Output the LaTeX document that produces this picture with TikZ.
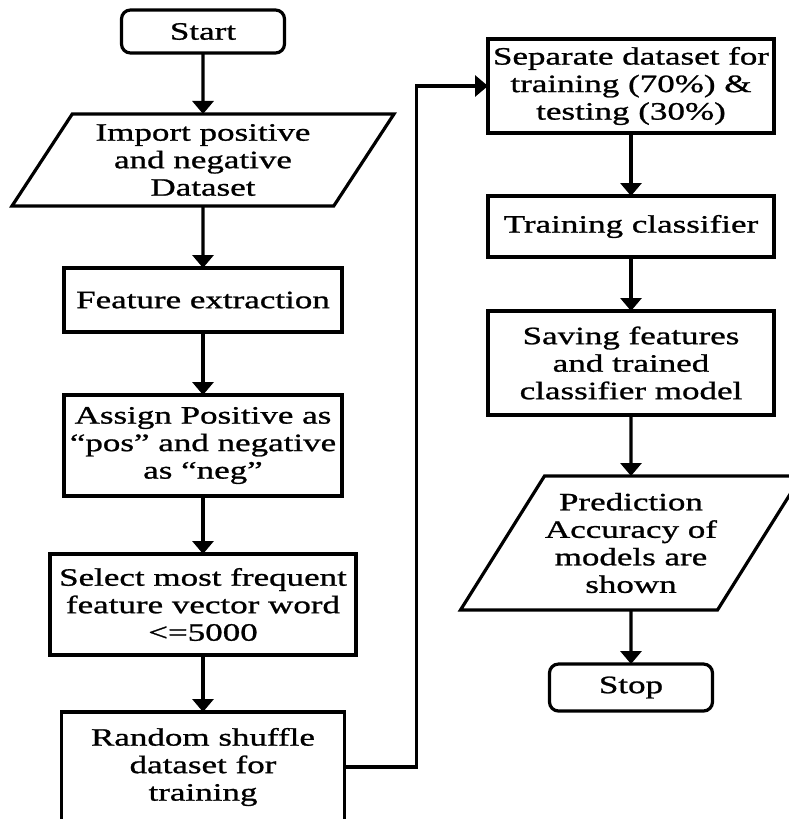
\documentclass[tikz,border=0pt]{standalone}
\usepackage{fontspec}
\setmainfont{Liberation Serif}[FakeStretch=1.4, FakeBold=1]
\usetikzlibrary{shapes.geometric, arrows.meta, positioning}

\begin{document}
\begin{tikzpicture}[
    x=1pt, y=-1pt,
    node distance=60pt,
    every node/.style={font=\fontsize{25}{27.5}\selectfont, align=center, line width=3.2pt, inner sep=0pt, outer sep=0pt},
    startstop/.style={rectangle, rounded corners=9pt, minimum width=163pt, minimum height=43pt, draw=black},
    process/.style={rectangle, minimum width=280pt, draw=black},
    io/.style={trapezium, trapezium left angle=50, trapezium right angle=130, trapezium stretches body, draw=black},
    arrow/.style={line width=3.2pt, -{Triangle[width=21pt,length=13pt]}},
]
    \useasboundingbox (0,0) rectangle (789,819);
    \clip (0,0) rectangle (789,819);

    % left column
    \node (start) [startstop] at (203,31.5) {Start};
    \node (import) [io, minimum width=382pt, minimum height=92pt, below=61pt of start] {Import positive\\and negative\\Dataset};
    \node (feature) [process, minimum width=278pt, minimum height=64pt, below=62pt of import] {Feature extraction};
    \node (assign) [process, minimum width=278pt, minimum height=101pt, below=63pt of feature] {Assign Positive as\\“pos” and negative\\as “neg”};
    \node (select) [process, minimum width=306pt, minimum height=101pt, below=58pt of assign] {Select most frequent\\feature vector word\\<=5000};
    \node (shuffle) [process, minimum width=283pt, minimum height=110pt, below=57pt of select] {Random shuffle\\dataset for\\training};

    % right column
    \node (separate) [process, minimum width=286pt, minimum height=94pt] at (631,86) {Separate dataset for\\training (70\%) \&\\testing (30\%)};
    \node (train) [process, minimum width=286pt, minimum height=61pt, below=63pt of separate] {Training classifier};
    \node (saving) [process, minimum width=286pt, minimum height=104pt, below=54pt of train] {Saving features\\and trained\\classifier model};
    \node (predict) [io, minimum width=341pt, minimum height=134pt, below=61pt of saving] {Prediction\\Accuracy of\\models are\\shown};
    \node (stop) [startstop, minimum height=47pt, below=54pt of predict] {Stop};

    \draw [arrow] (start) -- (import);
    \draw [arrow] (import) -- (feature);
    \draw [arrow] (feature) -- (assign);
    \draw [arrow] (assign) -- (select);
    \draw [arrow] (select) -- (shuffle);
    \draw [arrow] (shuffle.east) -- ++(72,0) |- (separate.west);
    \draw [arrow] (separate) -- (train);
    \draw [arrow] (train) -- (saving);
    \draw [arrow] (saving) -- (predict);
    \draw [arrow] (predict) -- (stop);

\end{tikzpicture}
\end{document}
